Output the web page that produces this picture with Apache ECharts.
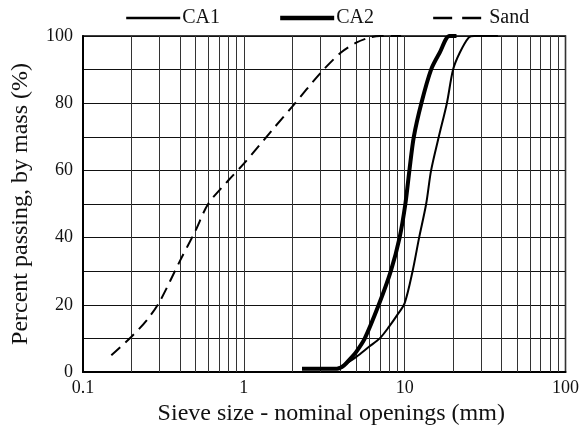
<!DOCTYPE html>
<html><head><meta charset="utf-8">
<script src="https://cdn.jsdelivr.net/npm/echarts@6/dist/echarts.min.js"></script>
<style>html,body{margin:0;padding:0;background:#fff}#c{width:582px;height:439px}</style>
</head><body><div id="c"></div>
<script>
var seriesNames = ['CA1', 'CA2', 'Sand'];
var ca1 = [[2.3,1],[3.5,1],[4,1.5],[4.5,3],[5,4.5],[6,7.5],[7,10],[8,13.5],[9,17],[10,20.5],[11.2,30],[12.3,40],[13.6,50],[14.6,60],[16.3,70],[18.3,80],[20,90],[22,95],[25,99.5],[27,100],[38,100]];
var ca2 = [[2.3,1],[3.8,1],[4.2,2],[4.6,4],[5,6],[5.65,10],[6.9,20],[8.2,30],[9.3,40],[10.1,50],[10.7,60],[11.4,70],[12.7,80],[14.6,90],[16.5,95],[19,100],[21,100]];
var sand = [[0.15,5],[0.2,10.5],[0.25,15.5],[0.3,21],[0.4,33],[0.5,42],[0.6,50],[0.8,57],[1,62],[1.5,72],[2,79],[3,89],[4,95],[5,98],[6,99.5],[7,100],[9.5,100]];
var xTicks = [0.1, 1, 10, 100];
var xMinorGrid = [0.2,0.3,0.4,0.5,0.6,0.7,0.8,0.9,2,3,4,5,6,7,8,9,20,30,40,50,60,70,80,90];
var yTicks = [0, 20, 40, 60, 80, 100];
var lineWidths = [2, 4, 2];
var legendDash = ['solid', 'solid', [19, 10]];

var font = 'Liberation Serif';
var chart = echarts.init(document.getElementById('c'));
chart.setOption({
  animation: false,
  backgroundColor: '#fff',
  textStyle: { fontFamily: font },
  legend: {
    top: 3, left: 120,
    itemWidth: 54, itemHeight: 14, itemGap: 58,
    itemStyle: { opacity: 0 },
    textStyle: { fontFamily: font, fontSize: 20, color: '#111', padding: [0,0,0,-3] },
    data: seriesNames.map(function (n, i) { return { name: n, lineStyle: { width: lineWidths[i] + 0.4, type: legendDash[i] } }; })
  },
  grid: { left: 83, right: 16, top: 36, bottom: 67, show: true, borderColor: '#000', borderWidth: 1.5 },
  xAxis: {
    type: 'log', min: 0.1, max: 100, logBase: 10,
    name: 'Sieve size - nominal openings (mm)', nameLocation: 'middle', nameGap: 29,
    nameTextStyle: { fontFamily: font, fontSize: 24, color: '#111', padding: [0, 0, 0, 14] },
    axisLine: { show: true, onZero: false, lineStyle: { color: '#000', width: 2 } },
    axisTick: { show: false },
    axisLabel: { fontFamily: font, fontSize: 18, color: '#111', margin: 7,
      formatter: function (v) { return xTicks.indexOf(+v) >= 0 ? String(v) : ''; } },
    splitLine: { show: true, lineStyle: { color: '#333', width: 1 } }
  },
  yAxis: {
    type: 'value', min: 0, max: 100, interval: 20,
    name: 'Percent passing, by mass (%)', nameLocation: 'middle', nameGap: 50,
    nameTextStyle: { fontFamily: font, fontSize: 24, color: '#111' },
    axisLine: { show: true, lineStyle: { color: '#000', width: 2 } },
    axisTick: { show: false },
    axisLabel: { fontFamily: font, fontSize: 18, color: '#111', margin: 10,
      formatter: function (v) { return yTicks.indexOf(v) >= 0 ? String(v) : ''; } },
    splitLine: { show: true, lineStyle: { color: '#111', width: 1 } },
    minorTick: { show: false, splitNumber: 2 },
    minorSplitLine: { show: true, lineStyle: { color: '#111', width: 1 } }
  },
  series: [
    { name: 'CA1', type: 'line', data: ca1, symbol: 'none', smooth: 0.3,
      lineStyle: { color: '#000', width: lineWidths[0] }, itemStyle: { color: '#000' }, z: 5 },
    { name: 'CA2', type: 'line', data: ca2, symbol: 'none', smooth: 0.3,
      lineStyle: { color: '#000', width: lineWidths[1] }, itemStyle: { color: '#000' }, z: 5 },
    { name: 'Sand', type: 'line', data: sand, symbol: 'none', smooth: 0.3,
      lineStyle: { color: '#000', width: lineWidths[2], type: [12, 7] }, itemStyle: { color: '#000' }, z: 5 },
    { name: 'grid', type: 'line', data: [], silent: true, z: 1,
      markLine: { symbol: 'none', silent: true, label: { show: false },
        lineStyle: { color: '#333', width: 1, type: 'solid' },
        data: xMinorGrid.map(function (v) { return { xAxis: v }; }) } }
  ]
});
</script></body></html>
